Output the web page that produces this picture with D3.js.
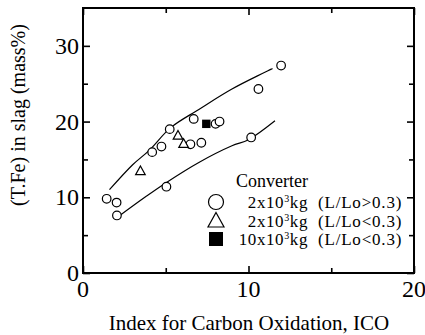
<!DOCTYPE html>
<html>
<head>
<meta charset="utf-8">
<script src="https://cdn.jsdelivr.net/npm/d3@7"></script>
<style>
  body { margin: 0; background: #fff; }
</style>
</head>
<body>
<div id="chart"></div>
<script>
(function() {
    'use strict';

    // converter 2x10^3 kg, L/Lo>0.3  (circles)
    var circleX = [1.43, 2.03, 2.05, 5.04, 4.18, 4.74, 5.24, 6.69, 6.49, 7.15, 8.01, 8.25, 10.16, 10.6, 11.97];
    var circleY = [9.8, 9.3, 7.6, 11.4, 15.96, 16.7, 19.0, 20.35, 17.0, 17.2, 19.7, 20.0, 17.9, 24.3, 27.4];
    // converter 2x10^3 kg, L/Lo<0.3  (triangles)
    var triX = [3.47, 5.74, 6.08];
    var triY = [13.5, 18.2, 17.1];
    // converter 10x10^3 kg, L/Lo<0.3  (filled squares)
    var sqX = [7.45];
    var sqY = [19.7];

    // hand drawn bounding curves
    var upperX = [1.6, 3.0, 4.0, 5.3, 7.0, 9.0, 11.45];
    var upperY = [11.0, 14.3, 16.2, 19.2, 21.6, 24.3, 27.0];
    var lowerX = [2.1, 3.8, 5.0, 7.0, 9.0, 10.0, 11.6];
    var lowerY = [7.4, 10.1, 11.9, 14.6, 16.8, 17.6, 20.1];

    var xTicks = [0, 10, 20];
    var xMinor = [5, 15];
    var yTicks = [0, 10, 20, 30];
    var yMinor = [5, 15, 25];

    var legendLabels = [
        { mass: '2x10', cond: '(L/Lo>0.3)', sym: 'circle' },
        { mass: '2x10', cond: '(L/Lo<0.3)', sym: 'triangle' },
        { mass: '10x10', cond: '(L/Lo<0.3)', sym: 'square' }
    ];

    var serif = '"Liberation Serif", "Times New Roman", Times, "DejaVu Serif", serif';

    var fullWidth = 425, fullHeight = 335;
    var area = { left: 83, top: 8, right: 414, bottom: 273 };

    var svg = d3.select('#chart')
      .append('svg')
        .attr('width', fullWidth)
        .attr('height', fullHeight)
        .attr('font-family', serif);

    var x = d3.scaleLinear().domain([0, 20]).range([area.left, area.right]);
    var y = d3.scaleLinear().domain([0, 35]).range([area.bottom, area.top]);

    // ticks on all four sides, pointing inward
    function tickAxis(axisFn, scale, values, size, tx, ty) {
        svg.append('g')
          .attr('transform', 'translate(' + tx + ',' + ty + ')')
          .call(axisFn(scale).tickValues(values).tickSize(size).tickFormat(''))
          .call(function(g) {
              g.select('.domain').remove();
              g.selectAll('line').attr('stroke', '#000').attr('stroke-width', 1.6);
          });
    }
    tickAxis(d3.axisBottom, x, xTicks, -7, 0, area.bottom);
    tickAxis(d3.axisBottom, x, xMinor, -5, 0, area.bottom);
    tickAxis(d3.axisTop, x, xTicks, -7, 0, area.top);
    tickAxis(d3.axisTop, x, xMinor, -5, 0, area.top);
    tickAxis(d3.axisLeft, y, yTicks, -7, area.left, 0);
    tickAxis(d3.axisLeft, y, yMinor, -5, area.left, 0);
    tickAxis(d3.axisRight, y, yTicks, -7, area.right, 0);
    tickAxis(d3.axisRight, y, yMinor, -5, area.right, 0);

    svg.append('rect')
      .attr('x', area.left)
      .attr('y', area.top)
      .attr('width', area.right - area.left)
      .attr('height', area.bottom - area.top)
      .attr('fill', 'none')
      .attr('stroke', '#000')
      .attr('stroke-width', 2);

    // tick labels
    svg.append('g').selectAll('text')
      .data(yTicks)
      .enter().append('text')
        .attr('x', area.left - 4)
        .attr('y', function(d) { return y(d) + 8; })
        .attr('text-anchor', 'end')
        .attr('font-size', 24)
        .text(function(d) { return d; });

    svg.append('g').selectAll('text')
      .data(xTicks)
      .enter().append('text')
        .attr('x', function(d) { return x(d); })
        .attr('y', 297)
        .attr('text-anchor', 'middle')
        .attr('font-size', 24)
        .text(function(d) { return d; });

    // axis titles
    svg.append('text')
      .attr('x', 249)
      .attr('y', 330)
      .attr('text-anchor', 'middle')
      .attr('font-size', 21)
      .text('Index for Carbon Oxidation, ICO');

    svg.append('text')
      .attr('transform', 'translate(25,115) rotate(-90)')
      .attr('text-anchor', 'middle')
      .attr('font-size', 20)
      .text('(T.Fe)  in slag (mass%)');

    // curves
    var lineGen = d3.line()
      .curve(d3.curveCatmullRom)
      .x(function(d) { return x(d[0]); })
      .y(function(d) { return y(d[1]); });

    [[upperX, upperY], [lowerX, lowerY]].forEach(function(c) {
        svg.append('path')
          .attr('d', lineGen(d3.zip(c[0], c[1])))
          .attr('fill', 'none')
          .attr('stroke', '#000')
          .attr('stroke-width', 1.2);
    });

    // symbols
    function symbol(g, kind, cx, cy, s) {
        if (kind === 'circle') {
            g.append('circle')
              .attr('cx', cx).attr('cy', cy).attr('r', s)
              .attr('fill', '#fff').attr('stroke', '#000').attr('stroke-width', 1.2);
        } else if (kind === 'triangle') {
            var h = s * 1.8;
            g.append('path')
              .attr('d', 'M' + cx + ',' + (cy - h * 0.55) +
                         'L' + (cx + s) + ',' + (cy + h * 0.45) +
                         'L' + (cx - s) + ',' + (cy + h * 0.45) + 'Z')
              .attr('fill', '#fff').attr('stroke', '#000').attr('stroke-width', 1.2);
        } else {
            g.append('rect')
              .attr('x', cx - s).attr('y', cy - s)
              .attr('width', 2 * s).attr('height', 2 * s)
              .attr('fill', '#000');
        }
    }

    var pts = svg.append('g');
    d3.zip(circleX, circleY).forEach(function(d) { symbol(pts, 'circle', x(d[0]), y(d[1]), 4.3); });
    d3.zip(triX, triY).forEach(function(d) { symbol(pts, 'triangle', x(d[0]), y(d[1]), 4.8); });
    d3.zip(sqX, sqY).forEach(function(d) { symbol(pts, 'square', x(d[0]), y(d[1]), 4.2); });

    // legend
    var legend = svg.append('g');
    legend.append('text')
      .attr('x', 236)
      .attr('y', 187)
      .attr('font-size', 18)
      .text('Converter');

    var sizes = { circle: 7.5, triangle: 8, square: 7 };
    legendLabels.forEach(function(d, i) {
        var cy = 202 + i * 18.5;
        symbol(legend, d.sym, 216, cy, sizes[d.sym]);
        var t = legend.append('text')
          .attr('x', 308)
          .attr('y', cy + 6)
          .attr('text-anchor', 'end')
          .attr('font-size', 17)
          .attr('letter-spacing', 0.6);
        t.append('tspan').text(d.mass);
        t.append('tspan').attr('dy', -6).attr('font-size', 10).text('3');
        t.append('tspan').attr('dy', 6).text('kg');
        legend.append('text')
          .attr('x', 318)
          .attr('y', cy + 6)
          .attr('font-size', 17)
          .attr('letter-spacing', 0.8)
          .text(d.cond);
    });
})();
</script>
</body>
</html>
